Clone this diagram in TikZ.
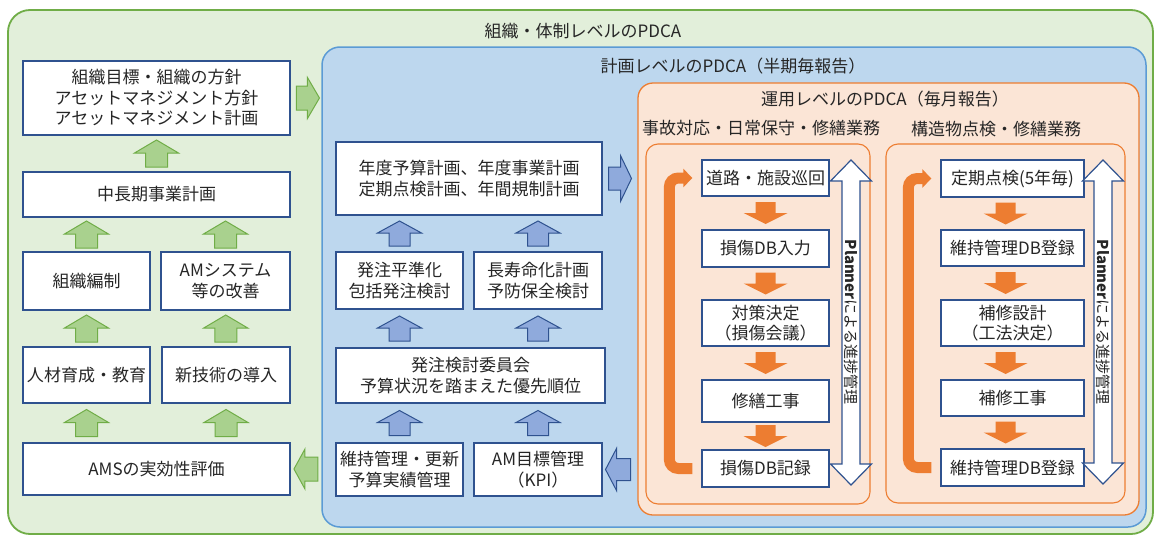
\documentclass[tikz,border=0pt]{standalone}
\usepackage{fontspec}
\setmainfont{Noto Sans CJK JP}
\usetikzlibrary{calc,arrows.meta}
\definecolor{gfill}{HTML}{E2EFDA}
\definecolor{gline}{HTML}{70AD47}
\definecolor{garrfill}{HTML}{A9D18E}
\definecolor{bfill}{HTML}{BDD7EE}
\definecolor{bline}{HTML}{5B9BD5}
\definecolor{barrfill}{HTML}{8FAADC}
\definecolor{boxline}{HTML}{2F528F}
\definecolor{ofill}{HTML}{FBE5D6}
\definecolor{oline}{HTML}{ED7D31}
\definecolor{txt}{HTML}{262626}
\newcommand\plarrow[3]{%
  \draw[plan] (#1,#2) -- ({#1+20.5},{#2+21}) -- ({#1+9},{#2+21}) -- ({#1+9},{#3-21}) -- ({#1+20.5},{#3-21}) -- (#1,#3) -- ({#1-20.5},{#3-21}) -- ({#1-9},{#3-21}) -- ({#1-9},{#2+21}) -- ({#1-20.5},{#2+21}) -- cycle;}
\tikzset{
  alen/.store in=\alen, ahw/.store in=\ahw, asw/.store in=\asw, ahl/.store in=\ahl,
  alen=27, ahw=22, asw=11, ahl=13,
  upa/.pic={\path[pic actions] (0,-\alen/2) -- (\ahw,-\alen/2+\ahl) -- (\asw,-\alen/2+\ahl) -- (\asw,\alen/2) -- (-\asw,\alen/2) -- (-\asw,-\alen/2+\ahl) -- (-\ahw,-\alen/2+\ahl) -- cycle;},
  wh/.style 2 args={minimum width=#1pt, minimum height=#2pt},
  box/.style={draw=boxline, fill=white, line width=1.3pt, align=center, inner sep=0pt, text=txt, font=\fontsize{17}{20.5}\selectfont},
  ttl/.style={text=txt, inner sep=0pt, font=\fontsize{17}{20}\selectfont},
  gpan/.style={draw=gline, fill=gfill, line width=1.8pt, rounded corners=22pt, inner sep=0pt},
  bpan/.style={draw=bline, fill=bfill, line width=1.5pt, rounded corners=18pt, inner sep=0pt},
  opan/.style={draw=oline, fill=ofill, line width=1.3pt, rounded corners=15pt, inner sep=0pt},
  ipan/.style={draw=oline, fill=ofill, line width=1.1pt, rounded corners=12pt, inner sep=0pt},
  garr/.style={fill=garrfill, draw=gline, line width=1pt, alen=27, ahw=22, asw=11, ahl=13},
  barr/.style={fill=barrfill, draw=boxline, line width=1pt, alen=25, ahw=22, asw=10.5, ahl=12},
  oarr/.style={fill=oline, alen=22, ahw=22, asw=10, ahl=11},
  obracket/.style={draw=oline, line width=11pt, rounded corners=9pt, -{Triangle[length=9pt,width=18pt]}},
  plan/.style={draw=boxline, fill=white, line width=1.2pt},
  plantext/.style={rotate=-90, text=txt, inner sep=0pt, font=\fontsize{15}{18}\selectfont},
}
\begin{document}
\begin{tikzpicture}[x=1pt,y=-1pt]
\fill[white] (0,0) rectangle (1155,538);
\useasboundingbox (0,0) rectangle (1155,538);
% panels
\node[gpan, wh={1145}{524}] (gpanel) at (580.5,272) {};
\node[bpan, wh={824}{480}] (bpanel) at (734,287) {};
\node[opan, wh={501}{432}] (opanel) at (888.5,299) {};
\node[ipan, wh={224}{360}] (ipanL) at (758,324) {};
\node[ipan, wh={239}{359}] (ipanR) at (1005.5,323.5) {};
% titles
\node[ttl] (gtitle) at (583,31) {組織・体制レベルのPDCA};
\node[ttl] (btitle) at (733,66) {計画レベルのPDCA（半期毎報告）};
\node[ttl] (otitle) at (885,99) {運用レベルのPDCA（毎月報告）};
\node[ttl] (ltitle) at (761,128) {事故対応・日常保守・修繕業務};
\node[ttl] (rtitle) at (996,129) {構造物点検・修繕業務};
% left column
\node[box, wh={267}{74}] (goal) at (156.5,98) {組織目標・組織の方針\\アセットマネジメント方針\\アセットマネジメント計画};
\node[box, wh={267}{45}] (midterm) at (156.5,194.5) {中長期事業計画};
\node[box, wh={127}{58}] (org) at (86.5,281) {組織編制};
\node[box, wh={129}{58}] (amsys) at (225.5,281) {AMシステム\\等の改善};
\node[box, wh={127}{56}] (hr) at (86.5,375) {人材育成・教育};
\node[box, wh={128}{56}] (tech) at (226,375) {新技術の導入};
\node[box, wh={267}{52}] (ams) at (156.5,469) {AMSの実効性評価};
% middle column
\node[box, wh={266}{73}] (annual) at (469,178.5) {年度予算計画、年度事業計画\\定期点検計画、年間規制計画};
\node[box, wh={127}{57}] (order) at (399.5,280.5) {発注平準化\\包括発注検討};
\node[box, wh={128}{57}] (life) at (538,280.5) {長寿命化計画\\予防保全検討};
\node[box, wh={269}{55}] (committee) at (470.5,375.5) {発注検討委員会\\予算状況を踏まえた優先順位};
\node[box, wh={127}{53}] (budget) at (399.5,469.5) {維持管理・更新\\予算実績管理};
\node[box, wh={128}{53}] (kpi) at (538,469.5) {AM目標管理\\（KPI）};
% operation left
\node[box, wh={127}{36}] (patrol) at (765.5,178) {道路・施設巡回};
\node[box, wh={127}{37}] (dbin) at (765.5,248.5) {損傷DB入力};
\node[box, wh={127}{46}] (decide) at (765.5,323) {対策決定\\（損傷会議）};
\node[box, wh={127}{42}] (repair) at (765.5,401) {修繕工事};
\node[box, wh={127}{37}] (dbrec) at (765.5,468.5) {損傷DB記録};
% operation right
\node[box, wh={143}{37}] (insp) at (1012.5,178.5) {定期点検(5年毎)};
\node[box, wh={143}{36}] (dbreg) at (1012.5,248) {維持管理DB登録};
\node[box, wh={143}{46}] (design) at (1012.5,323) {補修設計\\（工法決定）};
\node[box, wh={143}{36}] (rep2) at (1012.5,398) {補修工事};
\node[box, wh={143}{37}] (dbreg2) at (1012.5,467.5) {維持管理DB登録};
% green arrows
\pic[garr] at ($(midterm.north)!.5!(goal.south)$) {upa};
\pic[garr] at ($(org.north)!.5!(org.north|-midterm.south)$) {upa};
\pic[garr] at ($(amsys.north)!.5!(amsys.north|-midterm.south)$) {upa};
\pic[garr] at ($(hr.north)!.5!(org.south)$) {upa};
\pic[garr] at ($(tech.north)!.5!(amsys.south)$) {upa};
\pic[garr] at ($(hr.south)!.5!(hr.south|-ams.north)$) {upa};
\pic[garr] at ($(tech.south)!.5!(tech.south|-ams.north)$) {upa};
\pic[garr, rotate=-90, alen=23, ahw=20.5, asw=12, ahl=12] at ($(goal.east)!.5!(goal.east-|bpanel.west)+(2,0)$) {upa};
\pic[garr, rotate=90, alen=24, ahw=20, asw=12, ahl=11] at ($(ams.east)!.5!(ams.east-|bpanel.west)$) {upa};
% blue arrows
\pic[barr] at ($(order.north)!.5!(order.north|-annual.south)$) {upa};
\pic[barr] at ($(life.north)!.5!(life.north|-annual.south)$) {upa};
\pic[barr] at ($(order.south)!.5!(order.south|-committee.north)$) {upa};
\pic[barr] at ($(life.south)!.5!(life.south|-committee.north)$) {upa};
\pic[barr] at ($(budget.north)!.5!(budget.north|-committee.south)$) {upa};
\pic[barr] at ($(kpi.north)!.5!(kpi.north|-committee.south)$) {upa};
\pic[barr, rotate=-90, alen=23, ahw=23, asw=11.5, ahl=11] at ($(annual.east)!.5!(annual.east-|opanel.west)$) {upa};
\pic[barr, rotate=90, alen=25, ahw=21, asw=11, ahl=11] at ($(kpi.east)!.5!(kpi.east-|opanel.west)+(-2,0)$) {upa};
% orange arrows
\pic[oarr, rotate=180] at ($(patrol.south)!.5!(dbin.north)$) {upa};
\pic[oarr, rotate=180] at ($(dbin.south)!.5!(decide.north)$) {upa};
\pic[oarr, rotate=180] at ($(decide.south)!.5!(repair.north)$) {upa};
\pic[oarr, rotate=180] at ($(repair.south)!.5!(dbrec.north)$) {upa};
\pic[oarr, rotate=180] at ($(insp.south)!.5!(dbreg.north)+(-7,0)$) {upa};
\pic[oarr, rotate=180] at ($(dbreg.south)!.5!(design.north)+(-7,0)$) {upa};
\pic[oarr, rotate=180] at ($(design.south)!.5!(rep2.north)+(-7,0)$) {upa};
\pic[oarr, rotate=180] at ($(rep2.south)!.5!(dbreg2.north)+(-7,0)$) {upa};
% loop brackets
\draw[obracket] ([xshift=-9pt]dbrec.west) -- ++(-23,0) |- ([xshift=-9pt]patrol.west);
\draw[obracket] ([xshift=-9pt]dbreg2.west) -- ++(-23,0) |- ([xshift=-9pt]insp.west);
% planner arrows
\plarrow{851}{160}{485}
\plarrow{1103}{160}{484}
\node[plantext] (plan1) at (851,322) {\textbf{Planner}による進捗管理};
\node[plantext] (plan2) at (1103,322) {\textbf{Planner}による進捗管理};
\end{tikzpicture}
\end{document}
